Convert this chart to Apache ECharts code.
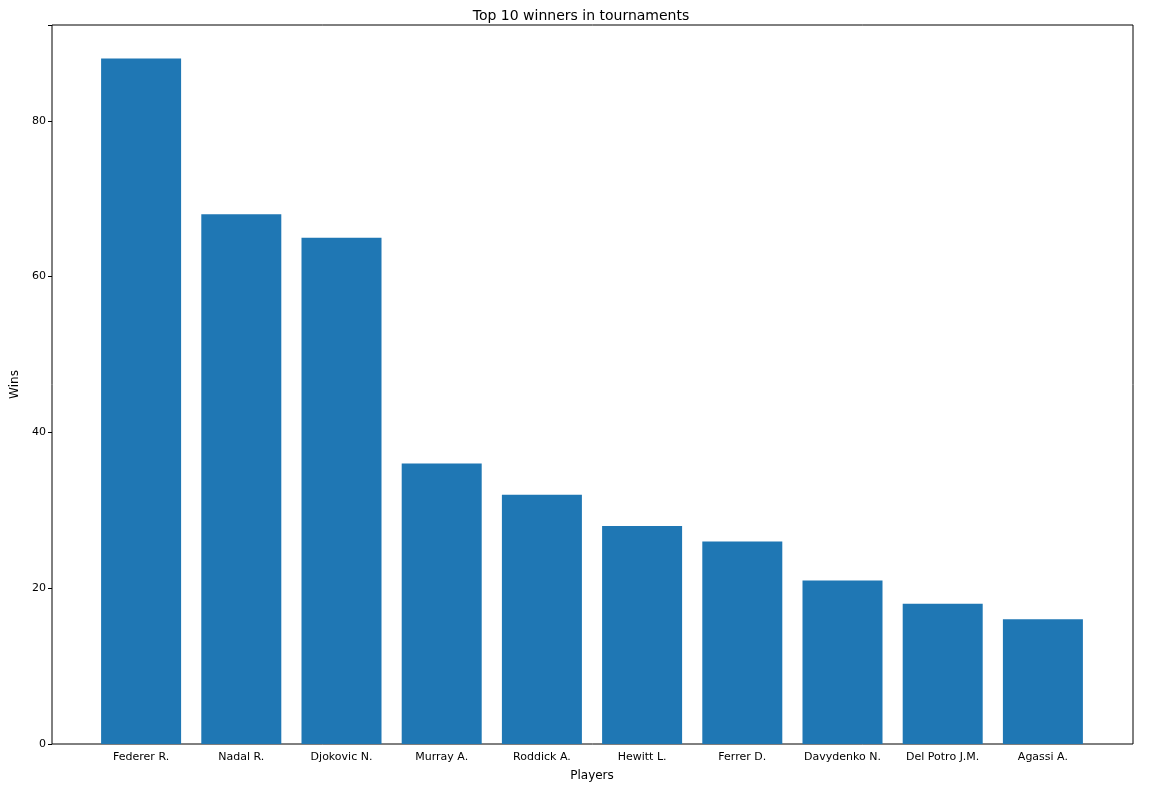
<!DOCTYPE html>
<html>
<head>
<meta charset="utf-8">
<title>Top 10 winners</title>
<script src="https://cdn.jsdelivr.net/npm/echarts@6/dist/echarts.min.js"></script>
</head>
<body style="margin:0">
<div id="main" style="width:1162px;height:791px;"></div>
<script>
var players = ['Federer R.', 'Nadal R.', 'Djokovic N.', 'Murray A.', 'Roddick A.', 'Hewitt L.', 'Ferrer D.', 'Davydenko N.', 'Del Potro J.M.', 'Agassi A.'];
var wins = [88, 68, 65, 36, 32, 28, 26, 21, 18, 16];
var yTicks = [0, 20, 40, 60, 80];

var chart = echarts.init(document.getElementById('main'));
var font = 'DejaVu Sans';
chart.setOption({
  animation: false,
  textStyle: {fontFamily: font},
  title: {text: 'Top 10 winners in tournaments', left: 'center', top: 4,
    textStyle: {fontSize: 14, fontWeight: 'normal', color: '#000', fontFamily: font}},
  graphic: [{type: 'rect', shape: {x: 52, y: 25, width: 1081, height: 719},
    style: {fill: 'none', stroke: '#000', lineWidth: 1}, silent: true}],
  grid: {left: 91, right: 69, top: 25, bottom: 47},
  xAxis: {
    type: 'category', data: players, name: 'Players', nameLocation: 'middle', nameGap: 26,
    nameTextStyle: {fontSize: 12, color: '#000'},
    axisLine: {show: false},
    axisTick: {alignWithLabel: true, length: 4, lineStyle: {color: '#000'}},
    axisLabel: {color: '#000', fontSize: 11, margin: 8}
  },
  yAxis: {
    type: 'value', min: 0, max: 92.3, interval: 20, offset: 39,
    name: 'Wins', nameLocation: 'middle', nameGap: 30,
    nameTextStyle: {fontSize: 12, color: '#000'},
    axisLine: {show: false},
    axisTick: {show: true, length: 4, lineStyle: {color: '#000'}},
    splitLine: {show: false},
    axisLabel: {color: '#000', fontSize: 11, margin: 6,
      formatter: function (v) { return yTicks.indexOf(v) >= 0 ? v : ''; }}
  },
  series: [{type: 'bar', data: wins, barWidth: 80, itemStyle: {color: '#1f77b4'}}]
});
</script>
</body>
</html>
